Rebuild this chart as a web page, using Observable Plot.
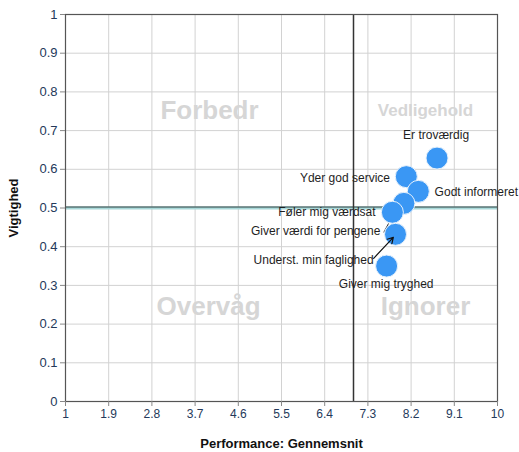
<!DOCTYPE html>
<html><head><meta charset="utf-8">
<script src="https://cdn.jsdelivr.net/npm/d3@7"></script>
<script src="https://cdn.jsdelivr.net/npm/@observablehq/plot@0.6"></script>
<style>
body{margin:0;background:#fff;}
#chart svg{font-family:"Liberation Sans",Arial,sans-serif;}
g[aria-label="x-axis label"] text, g[aria-label="y-axis label"] text{font-weight:bold;font-size:13px;fill:#111;}
</style></head><body><div id="chart"></div>
<script>
const names = ["Er troværdig","Yder god service","Godt informeret","Giver værdi for pengene","Føler mig værdsat","Underst. min faglighed","Giver mig tryghed"];
const performance = [8.74, 8.10, 8.35, 8.05, 7.81, 7.875, 7.69];
const importance  = [0.629, 0.581, 0.543, 0.512, 0.489, 0.432, 0.35];
const labelX = [8.72, 7.76, 8.69, 7.56, 7.46, 7.42, 7.68];
const labelY = [0.689, 0.578, 0.541, 0.44, 0.489, 0.364, 0.302];
const labelAnchor = ["middle","end","start","end","end","end","middle"];
const xTicks = [1, 1.9, 2.8, 3.7, 4.6, 5.5, 6.4, 7.3, 8.2, 9.1, 10];
const yTicks = [0, 0.1, 0.2, 0.3, 0.4, 0.5, 0.6, 0.7, 0.8, 0.9, 1];
const quadrants = ["Forbedr","Vedligehold","Overvåg","Ignorer"];
const quadX = [4.0, 8.5, 3.98, 8.5];
const quadY = [0.752, 0.752, 0.245, 0.245];
const xSplit = 7, ySplit = 0.5;
// arrow from "Underst. min faglighed" label toward its point
const arrowFrom = [7.42, 0.37], arrowTo = [7.83, 0.424];
// leader line from "Giver værdi for pengene"
const leaderFrom = [7.63, 0.437], leaderTo = [7.73, 0.46];

const idx = d3.range(names.length);
const ttxt = (anchor) => Plot.text(idx.filter(i => labelAnchor[i] === anchor), {
  x: i => labelX[i], y: i => labelY[i], text: i => names[i],
  textAnchor: anchor, fontSize: 12, fill: "#1e1e1e"
});

const chart = Plot.plot({
  width: 519, height: 452,
  marginLeft: 65, marginRight: 22, marginTop: 14, marginBottom: 51,
  x: {domain: [1, 10]},
  y: {domain: [0, 1]},
  style: {fontFamily: '"Liberation Sans", Arial, sans-serif', fontSize: "12px", background: "#fff", overflow: "visible"},
  marks: [
    Plot.ruleX(xTicks, {stroke: "#d2d2d2"}),
    Plot.ruleY(yTicks, {stroke: "#d2d2d2"}),
    Plot.text([0, 2, 3], {x: i => quadX[i], y: i => quadY[i], text: i => quadrants[i], fontSize: 26, fontWeight: "bold", fill: "#d6d6d6"}),
    Plot.text([1], {x: i => quadX[i], y: i => quadY[i], text: i => quadrants[i], fontSize: 17, fontWeight: "bold", fill: "#d6d6d6"}),
    Plot.ruleY([ySplit], {stroke: "#a8d8d8", strokeWidth: 3}),
    Plot.ruleY([ySplit], {stroke: "#2f4040", strokeWidth: 1, dy: -1}),
    Plot.ruleX([xSplit], {stroke: "#333", strokeWidth: 1.5}),
    Plot.frame({stroke: "#555", strokeWidth: 1.2}),
    Plot.link([0], {x1: () => leaderFrom[0], y1: () => leaderFrom[1], x2: () => leaderTo[0], y2: () => leaderTo[1], stroke: "#333", strokeWidth: 1}),
    Plot.dot(idx, {x: i => performance[i], y: i => importance[i], r: 11, fill: "#3a97f4", stroke: "#e8f2fc", strokeWidth: 1}),
    Plot.arrow([0], {x1: () => arrowFrom[0], y1: () => arrowFrom[1], x2: () => arrowTo[0], y2: () => arrowTo[1], stroke: "#111", strokeWidth: 1.2, headLength: 8}),
    ttxt("middle"), ttxt("end"), ttxt("start"),
    Plot.axisX(xTicks, {tickSize: 5, tickPadding: 3, stroke: "#888", color: "#24395a", fontSize: 12,
      tickFormat: d => String(d),
      label: "Performance: Gennemsnit", labelAnchor: "center", labelOffset: 46, labelArrow: "none"}),
    Plot.axisY(yTicks, {tickSize: 5, tickPadding: 3, stroke: "#888", color: "#24395a", fontSize: 13,
      tickFormat: d => String(d),
      label: "Vigtighed", labelAnchor: "center", labelOffset: 57, labelArrow: "none"})
  ]
});
document.getElementById("chart").appendChild(chart);
</script></body></html>
